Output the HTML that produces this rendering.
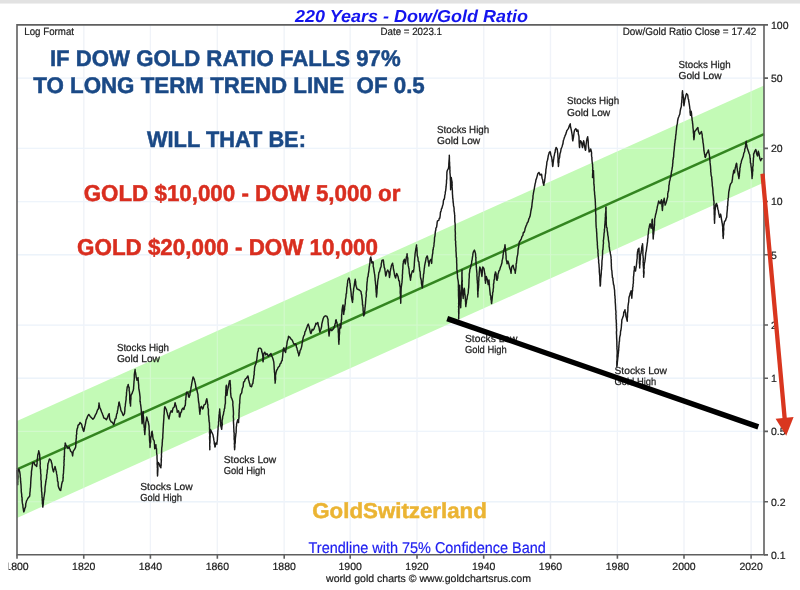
<!DOCTYPE html><html><head><meta charset="utf-8"><title>220 Years - Dow/Gold Ratio</title><style>
html,body{margin:0;padding:0;background:#fff;}body{width:800px;height:590px;overflow:hidden;}
svg{display:block;text-rendering:geometricPrecision;will-change:transform;}text{font-family:"Liberation Sans",Arial,sans-serif;}
</style></head><body>
<svg width="800" height="590" viewBox="0 0 800 590">
<rect x="0" y="0" width="800" height="590" fill="#fff"/>
<rect x="0" y="0" width="800" height="3" fill="#e2e2e2"/><rect x="0" y="3" width="800" height="1" fill="#efefef"/>
<path d="M83.75 24.9V554.8M150.40 24.9V554.8M217.35 24.9V554.8M284.20 24.9V554.8M350.20 24.9V554.8M417.00 24.9V554.8M483.70 24.9V554.8M550.50 24.9V554.8M617.40 24.9V554.8M684.00 24.9V554.8M751.10 24.9V554.8" stroke="#eef1f6" stroke-width="1.3" fill="none"/>
<path d="M17 78.08H764M17 148.39H764M17 201.57H764M17 254.75H764M17 325.06H764M17 378.24H764M17 431.42H764M17 501.73H764" stroke="#ebf2f9" stroke-width="1.3" fill="none"/>
<polygon points="17,420.90 764,85.60 764,182.60 17,517.90" fill="#c3fab6"/>
<path d="M83.75 24.9V554.8M150.40 24.9V554.8M217.35 24.9V554.8M284.20 24.9V554.8M350.20 24.9V554.8M417.00 24.9V554.8M483.70 24.9V554.8M550.50 24.9V554.8M617.40 24.9V554.8M684.00 24.9V554.8M751.10 24.9V554.8M17 78.08H764M17 148.39H764M17 201.57H764M17 254.75H764M17 325.06H764M17 378.24H764M17 431.42H764M17 501.73H764" stroke="#f4f8ff" stroke-opacity="0.3" stroke-width="1.2" fill="none"/>
<line x1="17" y1="469.40" x2="764" y2="134.10" stroke="#338520" stroke-width="2.5"/>
<polyline points="17.0,470.0 17.1,471.3 17.1,472.8 17.2,473.9 17.3,476.5 17.4,477.9 17.4,479.0 17.6,479.4 17.6,482.0 17.5,482.3 17.7,484.7 17.7,482.7 17.8,481.9 17.7,480.5 17.9,478.9 18.0,476.9 18.0,476.1 17.8,473.9 17.9,472.6 18.0,471.6 18.0,469.8 19.0,469.0 19.2,470.3 19.7,471.7 19.9,473.1 20.2,475.0 20.2,476.8 20.5,478.2 20.5,478.6 20.6,481.2 20.8,483.1 20.9,483.6 21.1,486.3 21.1,487.5 21.3,489.8 21.2,490.5 21.4,492.3 21.5,493.1 21.7,494.3 21.7,497.0 22.0,497.0 22.2,500.1 22.0,499.7 22.3,502.4 22.5,503.7 22.8,504.7 23.0,507.6 23.3,508.8 23.6,511.1 23.8,511.9 24.3,510.8 24.8,508.3 25.2,507.8 25.6,506.6 25.8,503.3 26.0,503.2 26.5,501.0 27.3,499.5 27.9,498.3 29.6,496.3 29.9,494.1 29.8,493.7 30.0,492.1 30.2,490.6 30.2,488.7 30.4,488.2 30.6,485.7 30.6,484.7 30.7,484.0 30.8,480.9 30.9,480.1 30.9,479.5 31.0,477.9 31.3,475.3 31.4,474.8 31.4,472.9 31.5,471.2 31.8,469.6 32.0,467.8 32.2,466.6 32.4,465.1 32.6,463.0 34.0,462.4 34.7,464.8 35.3,465.0 36.7,466.4 36.8,464.7 37.1,463.5 37.1,461.9 37.0,461.7 37.4,458.7 37.5,458.1 37.7,456.2 37.8,455.0 38.1,453.8 38.4,453.5 38.7,450.8 39.0,451.9 39.4,453.5 39.7,455.0 39.7,455.0 39.8,458.5 40.0,459.3 40.2,461.3 40.1,461.3 40.3,463.5 40.1,465.8 40.3,467.2 40.3,468.5 40.6,469.6 40.6,470.9 40.7,472.9 40.8,473.9 41.0,475.3 40.9,477.4 40.9,479.8 41.1,480.2 41.2,481.2 41.3,482.7 41.2,483.2 41.3,485.8 41.3,486.4 41.6,489.1 41.5,490.7 41.6,491.3 41.9,493.2 41.8,494.2 42.0,495.1 42.0,497.6 42.2,497.4 42.2,499.9 42.4,501.6 42.4,503.6 42.7,504.9 42.7,506.5 42.8,507.1 43.1,505.2 43.2,504.2 43.3,503.4 43.5,499.9 43.7,499.7 43.9,497.2 44.0,496.9 44.3,495.2 44.5,493.7 44.7,492.2 44.9,491.5 45.0,488.8 45.1,486.7 45.4,485.1 45.5,484.7 45.7,482.5 45.9,481.5 46.1,479.7 46.3,479.5 46.6,477.3 46.6,475.3 46.9,473.9 47.2,472.0 47.2,469.9 47.5,469.8 47.7,467.7 47.7,466.2 48.0,463.7 48.2,463.0 48.6,462.2 49.1,459.8 49.6,459.0 50.9,460.3 51.2,461.2 51.6,463.1 52.0,464.1 52.3,467.1 52.6,468.3 53.1,470.7 53.6,471.9 53.9,469.3 54.3,469.3 54.7,468.2 55.0,466.4 55.5,468.5 56.0,470.5 56.4,471.5 56.5,473.4 57.0,475.4 57.1,476.4 57.4,478.3 57.5,481.0 58.0,481.8 58.1,482.6 58.2,485.8 58.4,486.4 59.1,488.4 59.7,489.8 60.7,490.5 61.0,488.3 61.3,487.3 61.5,485.4 61.8,483.7 62.3,481.8 62.9,481.0 63.0,480.0 63.0,477.5 63.3,478.0 63.1,475.4 63.4,473.8 63.5,472.9 63.6,470.5 63.8,467.9 63.8,467.5 63.8,466.2 64.1,465.3 63.9,462.3 64.1,461.7 64.0,459.9 64.3,459.8 64.1,456.5 64.4,456.6 64.4,455.2 64.5,452.2 64.5,451.2 64.6,448.4 64.8,447.9 64.9,445.9 65.1,444.9 65.2,443.0 65.9,444.8 66.5,445.8 67.3,447.0 67.9,448.5 69.2,447.1 69.6,448.5 70.1,449.5 70.6,451.2 72.0,452.5 72.3,454.1 72.6,455.9 72.8,454.3 73.0,452.7 73.3,451.2 74.7,449.2 75.6,447.1 75.8,445.7 75.9,444.2 75.9,442.6 76.1,439.7 76.3,438.7 76.4,437.6 76.3,435.4 76.8,433.8 76.6,432.5 76.9,430.7 77.0,429.5 77.3,428.4 77.7,427.6 78.0,425.4 79.4,424.1 80.0,422.5 81.4,423.9 81.9,425.3 82.3,427.5 82.7,428.0 83.2,430.3 83.8,431.4 84.2,429.7 84.5,428.0 84.7,426.6 85.1,425.2 85.6,423.1 85.7,422.2 86.1,419.8 87.0,418.1 87.5,416.4 88.8,414.4 90.2,416.4 91.5,417.8 92.9,419.2 94.2,417.8 95.0,415.9 95.6,414.4 96.3,413.6 96.9,411.7 97.6,409.7 98.3,409.0 98.6,407.7 98.7,406.4 98.9,404.9 99.0,402.9 99.2,404.6 99.5,405.9 99.7,407.6 100.3,408.4 101.0,410.3 101.6,412.0 102.4,413.7 102.7,414.8 103.3,416.1 103.7,417.8 105.1,418.5 106.4,419.8 107.1,418.4 107.8,416.4 108.4,414.9 109.2,413.7 109.4,416.5 109.5,418.0 109.8,419.2 110.3,420.4 111.2,421.9 112.5,422.5 113.6,424.6 114.2,423.3 114.6,421.2 115.2,418.8 115.9,418.5 116.2,417.0 116.7,413.9 117.3,413.1 117.4,411.1 117.8,409.7 118.0,408.3 118.2,406.3 118.6,405.7 118.8,402.7 119.1,402.0 119.5,403.5 120.0,406.1 120.5,407.9 120.8,410.0 121.4,411.5 122.0,412.2 122.6,414.1 123.2,415.6 124.5,413.6 124.6,412.1 124.8,411.1 124.9,409.3 124.9,407.8 125.3,405.9 125.4,404.2 125.5,403.6 125.7,402.0 125.9,400.7 126.1,399.4 126.1,397.7 126.3,396.1 126.5,395.1 126.5,392.7 126.7,391.4 126.9,389.5 127.1,388.3 127.2,387.1 127.7,386.0 128.2,384.4 128.6,387.0 129.1,387.1 129.2,389.2 129.1,390.7 129.4,391.2 129.6,393.5 129.7,394.8 129.7,396.6 129.7,398.0 129.7,399.5 129.9,400.7 130.0,403.1 130.5,404.4 130.5,406.1 130.6,404.4 130.6,403.7 130.7,401.0 130.8,400.2 131.0,398.0 130.9,397.8 131.0,395.3 132.2,393.2 132.6,391.8 133.1,390.8 133.6,388.5 133.6,387.4 133.8,385.1 133.8,384.7 134.0,382.1 134.0,380.9 134.2,380.3 134.3,377.6 134.3,376.4 134.3,374.9 134.6,372.7 135.0,370.3 135.1,369.5 135.3,372.1 135.5,372.3 135.9,374.9 136.2,377.3 136.6,378.5 137.0,380.3 137.5,378.9 138.1,377.6 138.1,379.2 138.3,380.7 138.4,382.6 138.5,383.4 138.7,385.3 138.7,387.1 138.9,389.2 139.1,390.2 139.4,391.7 139.7,393.9 139.9,395.6 140.1,397.4 140.1,398.3 140.0,401.8 140.3,401.5 140.4,403.4 140.7,405.2 140.9,406.7 141.1,408.5 141.3,410.2 141.3,410.7 141.4,413.2 141.6,414.1 141.7,415.8 141.8,418.1 141.8,419.5 141.9,419.9 142.0,422.4 142.1,423.7 142.3,422.1 142.4,420.2 142.4,420.1 142.6,417.7 142.8,416.9 142.8,415.0 143.0,413.0 143.1,411.5 143.3,412.0 143.2,415.0 143.4,416.4 143.5,417.8 143.6,418.2 143.7,421.4 143.7,421.5 143.9,422.9 144.0,425.1 144.2,427.6 144.5,428.4 144.3,429.6 144.6,431.7 144.6,432.5 144.8,434.6 144.9,433.2 145.0,430.8 145.2,429.7 145.3,428.4 145.5,426.8 145.5,426.2 145.6,424.4 145.8,422.4 146.2,420.6 146.4,419.6 146.7,417.0 147.3,419.0 147.8,421.0 148.2,421.7 148.6,424.0 148.9,425.2 149.1,427.1 149.0,428.0 149.2,430.1 149.3,431.3 149.3,433.0 149.2,434.9 149.4,435.8 149.5,438.1 149.5,439.4 149.6,440.7 149.8,442.6 150.0,443.7 149.9,445.4 150.0,447.5 150.2,446.0 150.1,443.7 150.4,443.1 150.7,441.5 150.6,439.7 150.7,438.0 151.1,436.8 151.3,435.5 151.5,432.7 152.1,431.2 152.3,433.3 152.7,434.9 152.7,436.1 152.9,437.4 153.2,439.3 154.1,440.7 154.3,442.0 154.4,444.0 154.6,445.5 154.6,447.5 154.8,448.8 155.2,447.8 155.7,445.4 155.9,444.7 156.0,446.5 156.2,448.5 156.5,448.6 156.6,451.2 156.6,452.7 156.8,454.2 157.0,455.0 157.0,457.6 157.1,459.5 157.2,461.0 157.2,462.9 157.1,464.0 157.3,465.2 157.3,467.7 157.5,468.4 157.4,469.8 157.4,472.4 157.4,473.6 157.5,474.5 157.5,475.9 157.7,474.5 157.6,474.2 157.8,471.1 157.9,469.3 157.9,468.7 157.8,467.2 157.9,465.8 158.1,463.5 158.2,462.4 159.1,463.7 159.6,464.8 159.9,466.4 160.9,467.8 160.9,466.4 161.2,465.1 161.1,463.4 161.2,462.6 161.4,459.7 161.1,460.1 161.4,457.4 161.5,456.5 161.4,454.3 161.6,453.0 161.6,451.5 161.7,449.2 161.7,448.1 162.0,446.3 162.2,444.7 162.2,443.4 162.4,441.1 162.4,440.0 162.7,438.5 162.8,437.6 162.8,435.0 162.9,433.9 163.1,431.0 163.1,430.5 163.1,429.6 163.2,428.1 163.4,425.3 163.3,425.4 163.5,423.7 163.6,421.7 163.7,420.4 163.8,419.3 163.9,417.5 163.9,415.9 164.2,413.9 164.2,412.6 164.3,410.8 164.5,408.2 164.9,406.8 165.7,408.3 166.3,409.5 166.8,411.5 167.3,413.1 167.7,414.9 168.1,416.1 168.6,418.1 169.0,419.0 169.3,417.0 169.7,415.3 170.0,413.6 170.5,412.4 171.1,410.8 172.1,412.2 172.4,411.1 172.8,408.9 173.1,408.1 174.4,406.8 174.7,404.6 175.1,402.7 175.7,404.9 176.1,405.9 176.5,408.1 177.0,409.7 177.2,412.2 178.5,410.8 178.9,412.1 179.3,413.5 179.3,416.7 179.9,417.0 180.2,415.1 180.5,413.6 180.9,412.2 181.4,412.1 181.9,409.5 183.0,408.1 183.9,409.5 184.4,407.2 184.9,405.8 185.3,405.4 185.4,403.6 185.5,403.2 185.5,400.3 185.8,400.3 185.9,397.7 186.0,397.0 186.1,395.3 186.5,392.4 187.0,391.9 188.0,393.2 188.4,395.1 188.5,396.4 189.1,397.3 189.5,395.8 189.8,395.5 190.2,392.5 190.5,390.5 190.8,389.4 191.1,387.1 191.4,385.9 191.7,383.6 192.1,381.7 192.4,380.2 192.9,377.6 193.1,376.9 194.2,379.0 194.5,380.5 194.9,381.8 195.2,383.1 195.5,384.4 195.8,387.0 196.1,388.5 196.9,389.8 197.1,391.0 197.6,393.2 197.9,393.9 198.0,395.5 198.1,397.3 198.3,398.2 198.4,400.1 198.6,402.0 198.9,403.2 199.1,404.9 199.2,407.5 199.4,408.6 199.6,411.6 199.7,412.1 199.9,414.2 199.9,412.6 200.3,410.5 200.4,408.9 200.6,407.5 201.4,406.3 202.1,408.1 202.7,409.0 203.2,408.1 203.6,406.1 204.1,404.9 205.4,404.2 205.8,402.3 206.2,400.5 206.8,398.8 207.1,400.1 207.3,401.3 207.6,403.7 207.9,404.9 207.8,407.6 208.0,407.8 208.5,410.0 208.4,409.6 208.4,412.8 208.4,414.4 208.7,416.0 208.8,417.1 208.9,418.8 209.0,420.7 209.2,422.1 209.4,422.4 209.5,425.3 209.6,426.8 209.5,427.7 209.6,429.9 209.7,431.7 209.4,432.0 209.7,434.4 209.7,435.9 209.6,436.4 209.6,438.7 209.6,438.7 209.9,442.5 209.7,442.1 209.7,444.1 209.7,446.1 209.9,446.2 209.8,447.9 209.8,449.7 209.8,448.2 209.8,447.0 209.7,444.3 209.9,443.2 210.0,442.4 210.0,441.3 210.0,439.1 210.1,436.9 210.2,436.9 210.1,435.1 210.2,434.2 210.3,432.6 210.4,430.9 210.3,429.3 210.9,430.3 211.5,432.0 212.1,432.9 212.9,434.7 213.4,437.3 213.6,438.1 213.9,440.4 214.2,441.5 214.3,444.0 214.7,444.8 214.9,447.0 215.3,446.4 215.6,443.8 216.0,442.9 216.9,444.2 216.9,442.3 217.1,442.0 217.4,439.7 217.4,438.9 217.5,436.4 217.6,436.1 217.7,434.4 217.8,432.5 217.9,430.7 218.1,429.4 218.1,426.9 218.2,426.3 218.5,424.5 218.6,424.2 218.5,421.8 218.8,421.2 218.8,418.6 219.0,417.1 219.0,415.4 219.3,413.9 219.4,412.3 219.7,410.2 219.7,409.0 219.7,410.3 219.9,412.1 220.0,413.3 220.1,415.6 220.3,417.1 220.5,418.6 220.5,420.6 220.6,421.9 220.8,423.4 220.7,425.0 221.0,426.6 221.7,429.3 221.8,427.7 221.9,426.5 222.3,424.7 222.1,422.4 222.1,420.7 222.5,418.8 222.6,418.3 222.7,416.5 223.3,414.7 223.5,414.1 223.7,412.0 224.1,410.9 224.3,409.0 224.7,408.4 224.9,405.7 225.2,403.9 225.4,403.5 225.4,400.9 225.4,399.8 225.4,398.0 225.4,396.5 225.6,396.1 225.8,393.3 225.6,393.1 225.9,392.2 225.8,390.9 226.0,388.6 226.0,386.9 226.4,385.3 226.5,386.9 226.4,388.8 226.5,388.9 226.6,390.8 226.8,392.7 226.8,394.0 226.9,395.4 227.2,393.5 227.3,392.0 227.7,389.5 228.0,388.5 228.4,386.5 228.6,385.3 228.9,383.5 229.1,383.1 229.4,381.0 230.1,380.6 230.1,382.6 230.3,384.3 230.4,384.5 230.4,386.9 230.6,388.1 230.5,389.9 230.6,392.2 230.7,393.7 230.9,395.5 231.1,397.1 231.9,398.8 232.8,401.4 232.9,403.4 232.8,404.9 233.1,407.1 233.2,408.1 233.2,408.6 233.4,411.2 233.4,411.8 233.5,413.8 233.4,415.2 233.3,416.5 233.5,418.8 233.6,420.4 233.4,420.7 233.5,422.1 233.6,423.9 233.7,425.0 233.7,427.1 233.8,428.5 233.9,430.1 233.9,432.0 234.1,432.1 234.2,434.5 234.1,435.1 234.2,437.5 234.1,439.0 234.4,440.3 234.5,442.7 234.3,443.1 234.5,445.4 234.4,446.8 234.6,448.6 234.6,449.7 234.7,448.4 234.9,446.7 234.8,444.6 235.1,443.5 235.3,441.8 235.3,440.2 235.4,438.2 235.6,436.6 235.7,436.0 235.9,433.4 236.1,432.9 236.2,430.7 236.2,429.6 236.3,427.0 236.6,425.7 236.6,423.9 237.0,422.8 237.3,421.1 237.7,419.8 238.2,420.4 238.6,422.5 238.6,420.8 238.7,419.1 238.9,418.6 239.0,415.9 239.0,415.6 239.0,412.9 239.2,411.9 239.1,410.5 239.2,409.4 239.4,407.8 239.4,406.8 239.5,404.3 239.8,402.9 239.8,402.1 239.8,400.3 240.0,398.3 240.1,397.0 240.4,395.1 240.7,394.2 241.7,392.9 242.0,390.7 242.3,388.7 242.8,387.5 243.2,386.5 243.3,384.8 243.6,381.9 243.9,382.0 244.6,381.3 245.2,379.3 246.6,378.0 247.9,375.9 248.4,378.0 248.5,379.7 248.9,380.7 249.4,383.1 249.7,383.5 250.2,386.1 251.6,386.8 252.2,384.3 252.9,383.4 253.0,382.1 253.4,379.0 253.6,378.7 253.8,376.2 253.9,375.3 254.2,374.8 254.2,371.9 254.5,370.3 254.5,369.3 254.7,367.1 255.3,365.0 255.7,364.4 256.2,362.1 256.6,360.3 256.9,358.8 257.0,357.6 257.3,355.5 257.4,353.6 257.8,351.7 258.2,351.1 258.4,348.8 259.3,348.1 260.4,348.1 261.5,349.5 261.8,351.8 262.4,353.6 262.6,354.5 262.9,357.1 262.9,358.0 262.8,360.5 263.1,361.7 263.3,359.6 263.4,358.2 263.5,357.1 263.6,355.5 263.8,353.6 264.7,352.2 265.3,353.3 265.8,354.9 266.9,353.6 267.6,354.6 268.3,356.3 269.6,354.9 271.0,353.6 271.5,355.8 271.9,356.3 272.6,357.7 273.1,359.3 273.5,360.9 273.8,362.2 274.0,364.7 274.1,366.0 274.2,368.8 274.4,370.4 274.4,371.8 274.7,373.3 274.7,374.2 274.8,375.6 274.8,378.5 274.8,378.4 275.0,380.4 275.2,381.7 275.1,383.1 275.3,381.4 275.3,380.9 275.6,379.2 275.5,376.4 275.5,375.1 275.8,374.2 276.1,372.4 276.7,370.2 277.5,369.1 278.1,367.5 279.5,366.1 280.1,363.9 280.8,363.4 281.6,361.0 282.2,360.7 282.3,358.7 282.5,357.6 282.7,355.8 282.8,354.1 283.0,352.1 283.1,351.2 283.5,348.4 283.9,347.8 284.4,350.6 284.9,351.2 285.6,352.5 285.9,350.1 286.0,348.6 286.4,347.1 286.6,345.8 286.9,344.2 287.2,341.6 287.6,340.3 288.1,339.0 288.5,336.3 289.6,337.0 291.0,339.0 292.3,340.3 292.7,341.2 293.4,343.1 294.4,344.4 295.3,343.7 296.1,344.6 296.4,347.1 296.9,347.8 297.3,349.9 297.8,351.2 298.0,352.6 298.6,353.8 298.8,355.9 299.4,353.8 299.8,352.5 300.2,350.2 300.7,349.8 301.3,347.9 301.8,345.8 302.1,343.5 302.3,342.6 302.6,341.0 302.9,339.0 303.4,336.9 303.9,335.6 304.5,334.9 304.9,332.0 305.1,331.6 305.6,330.8 306.2,329.2 306.6,328.1 307.2,326.5 307.5,325.4 308.3,324.1 309.1,326.6 309.4,328.0 310.0,330.7 310.5,332.9 311.0,333.4 311.3,332.6 311.8,331.1 312.1,329.3 313.4,330.0 314.1,328.7 314.8,326.6 315.3,325.6 315.9,323.2 316.8,323.9 317.8,322.5 318.0,323.3 318.4,325.9 318.8,326.6 319.1,327.8 319.4,330.0 319.9,332.0 320.3,330.5 320.9,329.3 321.6,326.6 321.8,324.2 322.2,322.5 322.7,320.5 323.2,318.5 324.3,316.4 325.6,315.8 327.0,316.4 327.6,318.2 328.1,319.8 328.0,321.6 328.2,322.8 328.3,325.1 328.5,326.0 328.6,328.0 328.8,329.4 328.8,331.0 328.7,332.1 329.0,335.2 329.0,336.1 329.2,334.6 329.4,332.8 329.7,330.7 330.8,329.3 331.7,330.7 333.1,329.3 333.7,328.5 334.4,326.6 335.1,323.9 335.5,323.1 335.7,320.1 336.2,319.8 336.5,321.8 336.9,322.3 337.2,323.9 337.6,325.7 338.1,328.0 338.2,329.5 338.2,331.8 338.5,333.5 338.5,334.8 338.5,335.4 338.5,336.8 338.6,338.3 338.7,340.7 338.6,341.0 338.8,342.7 338.9,344.2 338.9,342.1 339.1,340.0 339.3,339.7 339.2,338.2 339.2,337.5 339.3,335.3 339.5,333.4 339.6,332.8 339.5,330.7 339.7,328.8 340.0,326.8 340.1,324.8 340.3,323.9 340.7,326.6 340.8,328.0 341.0,325.9 341.0,324.5 341.2,322.6 341.2,322.7 341.3,319.8 341.6,320.0 341.6,317.1 341.6,315.2 341.9,313.5 341.9,313.3 342.0,310.2 342.2,309.0 342.7,305.9 343.0,304.9 343.2,305.9 343.1,307.1 343.3,309.8 343.5,311.7 343.6,312.2 343.7,314.4 343.8,312.8 344.3,310.3 344.6,309.6 344.6,307.4 345.0,304.9 345.3,303.6 345.3,302.4 345.4,299.6 345.7,298.3 346.0,296.5 346.1,294.0 346.5,293.5 346.6,291.5 346.7,290.3 346.8,287.8 347.1,286.5 347.4,285.3 347.3,283.9 347.6,283.1 347.7,280.7 348.2,279.4 348.8,278.0 349.2,278.3 349.7,280.7 349.8,282.9 350.1,283.4 350.3,285.9 350.4,287.5 350.7,289.4 350.8,290.2 351.0,291.7 351.2,293.9 351.3,295.9 351.5,297.0 351.9,299.4 352.1,300.7 352.5,302.4 352.6,300.4 352.8,299.2 352.9,299.4 352.9,296.6 353.1,294.2 353.2,293.2 353.4,291.5 353.6,290.8 353.6,288.9 354.1,286.6 354.3,285.1 354.5,283.4 354.9,281.5 355.2,279.3 355.3,280.1 355.7,281.6 355.8,284.7 356.2,286.2 356.5,287.0 356.9,288.8 358.3,289.5 359.6,290.2 361.0,291.5 361.4,294.3 361.7,295.1 361.9,297.0 361.9,297.7 362.2,299.9 362.4,301.4 362.5,304.9 362.8,304.9 362.9,306.4 363.1,308.0 363.1,310.5 363.3,311.2 363.3,312.9 363.4,313.3 363.7,315.9 364.2,314.8 364.7,313.2 364.6,311.6 364.9,309.8 365.0,307.6 365.2,307.1 365.3,305.1 365.5,303.6 365.6,301.7 365.7,300.6 365.8,299.0 365.9,297.5 366.1,297.3 366.3,294.8 366.1,293.8 366.4,291.5 366.6,290.4 366.8,289.5 366.7,287.3 366.9,284.9 366.9,284.2 367.1,282.1 367.3,280.9 367.4,279.3 367.6,277.3 368.1,276.4 368.3,273.9 368.7,272.0 368.9,270.5 369.1,268.5 369.2,267.2 369.5,265.6 369.8,263.3 369.9,263.3 370.0,261.7 370.1,259.0 370.8,257.0 371.0,258.3 371.3,259.6 371.6,261.5 371.8,263.0 372.8,261.7 373.2,262.3 373.2,266.4 373.5,267.2 373.7,268.5 374.0,270.4 374.2,271.8 374.5,273.7 374.8,275.3 374.9,277.0 375.1,278.4 375.1,280.2 375.4,281.6 375.5,283.3 375.6,284.2 375.9,286.4 375.9,287.5 375.9,289.0 376.1,290.9 376.1,291.8 376.4,293.8 376.3,294.8 376.5,297.0 376.6,295.4 376.9,293.4 377.0,291.5 377.0,289.9 377.2,288.4 377.3,287.1 377.3,285.9 377.6,283.7 377.6,282.8 377.8,280.7 378.0,279.4 378.4,277.8 378.5,275.6 378.8,273.6 378.9,272.5 379.5,271.8 380.0,269.8 380.5,267.8 380.9,267.1 381.2,266.0 381.2,264.1 381.8,261.6 381.9,260.3 383.1,259.8 383.5,261.0 383.8,264.5 384.0,265.3 384.3,267.7 384.7,268.2 385.0,270.7 385.3,272.4 385.5,274.7 385.8,276.1 386.3,274.2 386.7,272.0 387.7,270.0 388.8,272.0 389.2,273.8 389.3,275.9 389.5,277.5 389.7,275.7 390.0,274.8 390.1,271.8 390.4,270.7 390.7,268.8 391.0,267.7 391.5,265.3 392.6,263.2 392.8,265.0 393.1,265.6 393.3,267.7 393.5,269.3 393.9,270.9 394.1,272.0 394.5,274.7 395.1,276.8 395.6,278.1 395.9,276.5 396.1,275.6 396.6,273.4 397.6,275.4 398.1,276.7 398.5,278.8 398.8,280.8 399.4,281.0 399.6,283.6 399.7,285.2 400.0,286.7 400.2,286.7 400.3,289.7 400.2,291.6 400.2,293.1 400.5,294.8 400.4,296.9 400.6,297.2 400.5,298.3 400.6,300.0 400.7,301.1 400.7,303.2 400.8,302.0 400.8,301.2 400.8,299.5 400.8,297.7 401.0,295.9 401.0,294.1 401.0,292.7 401.1,290.2 401.1,289.6 401.2,287.9 401.3,287.0 401.5,285.7 401.8,283.3 402.0,282.4 402.1,280.2 402.2,279.3 402.4,277.0 402.3,275.1 402.5,274.1 402.6,272.1 402.6,270.7 402.8,269.0 402.9,268.1 402.9,266.4 403.1,263.6 403.4,263.0 403.4,261.2 404.4,259.2 404.7,260.1 404.9,261.9 405.3,263.9 405.6,262.0 405.9,260.6 406.2,258.3 406.4,257.1 406.8,255.9 407.1,253.7 407.2,255.6 407.3,256.4 407.8,258.3 407.8,260.0 407.8,261.9 408.1,263.5 408.2,265.4 408.6,267.0 408.8,268.0 409.0,268.8 409.2,271.5 409.4,273.7 409.7,274.8 409.8,276.1 410.2,277.7 410.5,280.2 410.7,277.7 411.0,277.1 411.2,275.0 411.6,273.4 412.0,272.1 412.5,270.7 413.5,272.0 413.6,270.5 413.9,268.9 414.1,267.0 414.3,265.3 414.3,263.8 414.5,260.8 414.6,260.2 414.6,259.4 414.8,257.3 415.0,255.6 415.0,254.5 415.2,253.1 415.6,250.5 415.9,249.0 416.3,246.6 416.6,244.9 416.5,246.7 416.8,247.4 417.0,249.8 417.1,251.6 417.1,252.5 417.2,254.7 417.3,255.8 418.0,258.0 418.1,260.3 418.5,261.7 418.9,261.9 419.1,264.7 419.3,266.6 419.5,267.5 419.7,270.6 420.0,271.5 420.1,271.3 420.3,274.2 420.4,276.4 420.7,278.3 421.1,279.5 421.4,280.9 421.4,283.1 421.8,285.1 422.3,287.8 422.5,286.6 422.7,284.1 422.7,282.0 422.9,282.1 423.1,279.2 423.2,278.3 423.4,277.2 423.5,274.1 423.8,273.7 423.9,272.8 424.1,270.2 424.3,268.2 424.5,267.5 424.6,265.8 425.1,263.4 425.4,262.0 425.8,260.1 426.1,258.0 427.2,255.9 427.5,256.8 427.9,259.2 428.2,260.7 428.3,262.0 428.8,263.2 428.8,266.1 429.1,264.2 429.6,261.7 429.9,260.7 430.9,259.3 431.4,261.1 431.6,263.4 431.8,262.2 431.8,260.4 432.0,258.1 432.2,256.6 432.5,254.2 432.8,253.1 432.9,249.7 433.2,249.8 433.4,247.5 433.8,246.4 434.0,244.4 434.1,242.8 434.4,241.4 434.5,238.5 434.6,237.2 434.9,236.3 435.1,234.7 435.2,233.1 435.4,231.3 435.8,230.0 435.9,228.1 436.6,227.1 437.0,224.1 437.2,222.1 437.5,220.9 438.8,220.3 439.3,218.2 439.8,218.2 440.2,215.5 440.4,212.6 440.9,211.4 441.2,210.4 441.5,208.7 441.9,208.3 442.6,205.6 442.9,204.7 443.2,203.5 443.4,200.8 443.9,199.2 444.2,199.2 444.6,197.6 444.7,195.9 445.2,193.9 445.3,191.7 445.6,191.1 445.8,189.5 446.0,187.6 446.1,186.7 446.3,184.4 446.5,183.0 446.5,180.9 446.6,179.7 446.8,179.1 446.8,176.5 446.8,175.4 446.9,173.7 446.9,172.1 447.3,170.5 447.9,169.4 448.4,168.5 448.7,166.7 448.8,165.6 448.8,164.0 449.0,161.4 449.0,161.1 449.2,159.0 449.3,157.1 449.4,157.0 449.3,155.2 449.3,156.2 449.4,157.8 449.4,159.3 449.4,161.5 449.6,162.0 449.6,163.4 449.6,165.3 449.7,165.9 449.9,167.9 449.8,169.4 450.0,170.4 449.9,172.1 450.1,174.0 450.3,176.2 450.3,177.0 450.3,178.9 450.4,181.0 450.5,181.6 450.5,183.5 450.5,184.9 450.6,187.2 450.6,188.0 450.6,189.7 450.6,189.0 450.7,187.5 450.9,185.4 451.0,184.4 451.0,181.8 451.2,179.9 451.2,178.9 451.3,177.5 451.6,179.8 452.0,181.6 452.0,182.9 452.2,185.6 452.0,186.2 452.2,188.0 452.3,189.6 452.4,190.8 452.4,192.5 452.5,194.5 452.6,195.4 452.7,197.6 452.8,198.7 453.0,199.7 453.1,202.0 453.4,203.7 453.5,205.8 453.9,207.0 454.1,208.7 454.1,210.8 454.4,212.4 454.6,214.4 454.8,215.6 454.7,216.9 454.8,218.5 454.8,220.0 454.8,221.7 455.1,223.3 455.2,225.0 455.2,227.1 455.2,228.8 455.1,229.5 455.2,230.6 455.4,233.4 455.4,233.5 455.3,235.8 455.4,237.1 455.4,238.6 455.3,239.8 455.7,241.6 455.6,243.9 455.7,244.2 455.8,246.6 455.9,247.3 456.0,249.0 455.9,250.4 456.1,252.1 456.2,253.6 456.2,254.5 456.3,257.1 456.6,257.8 456.6,260.1 456.7,260.7 456.6,261.8 456.8,264.6 456.8,265.7 456.8,266.8 456.8,268.9 457.1,270.7 457.2,271.7 457.3,273.9 457.5,275.3 457.5,276.3 457.6,278.1 458.0,279.9 458.3,282.2 458.4,283.4 458.4,285.1 458.4,287.3 458.5,288.6 458.4,289.9 458.5,291.1 458.5,291.7 458.5,293.4 458.5,295.6 458.5,295.4 458.6,297.4 458.7,299.1 458.7,300.5 458.7,302.9 458.6,303.6 458.8,305.1 458.5,306.9 458.8,308.0 458.6,309.4 458.7,310.2 458.6,312.0 458.8,312.8 458.8,313.9 458.7,316.1 458.7,316.8 458.7,318.9 458.6,317.8 458.7,317.2 458.8,314.0 458.9,313.5 458.9,311.6 458.9,310.3 459.0,307.6 459.0,307.7 459.1,305.8 459.1,304.7 459.0,303.9 459.1,302.0 459.2,300.5 459.4,298.8 459.3,296.9 459.4,295.6 459.3,293.9 459.4,293.2 459.6,291.2 459.5,289.4 459.6,288.4 459.7,286.5 459.7,285.3 459.7,288.0 459.6,289.2 459.8,290.4 459.9,291.2 459.9,292.3 460.1,293.9 460.1,296.2 460.1,296.8 460.2,298.5 460.4,299.4 460.4,301.9 460.4,302.8 460.6,305.3 460.7,305.7 460.7,307.7 460.8,305.6 460.8,304.1 460.9,303.3 460.9,302.1 461.1,300.8 461.1,298.5 461.1,296.5 461.2,295.4 461.3,293.3 461.4,292.6 461.5,291.6 461.5,289.4 461.6,288.0 461.7,285.7 461.7,285.3 461.7,282.9 461.7,282.3 461.8,281.6 461.9,280.0 461.9,277.4 461.9,276.8 461.9,274.6 461.9,273.1 462.0,271.6 462.0,270.0 462.0,272.2 462.1,273.0 462.0,274.2 462.0,276.4 462.1,277.8 462.1,279.7 462.3,280.6 462.3,281.1 462.1,282.7 462.3,285.0 462.1,285.9 462.3,287.5 462.3,288.7 462.4,290.4 462.5,291.1 462.8,294.6 462.8,295.1 463.1,297.1 463.2,298.5 463.2,297.3 463.4,295.3 463.6,294.4 463.7,292.3 463.7,290.4 464.2,288.3 464.5,289.5 464.6,290.9 464.7,293.0 464.8,293.6 465.1,295.4 465.2,296.9 465.3,298.0 465.4,298.5 465.4,301.0 465.7,302.8 465.6,303.6 465.7,304.9 465.8,306.6 465.9,305.4 466.1,304.1 466.4,302.5 466.5,300.5 467.1,298.7 467.3,296.5 467.7,294.8 468.1,293.4 468.3,292.0 468.4,289.5 468.6,288.1 468.7,287.6 468.8,285.3 468.9,283.8 469.0,280.9 469.0,281.3 469.0,279.3 469.2,278.0 469.3,276.6 469.2,273.9 469.3,273.8 469.6,272.1 469.9,269.3 470.3,268.4 470.6,267.7 470.9,265.1 471.4,264.3 471.7,262.3 471.7,261.2 472.1,260.0 472.4,257.5 472.8,255.4 472.9,253.9 473.3,252.1 474.4,250.1 474.9,251.5 475.5,253.5 475.6,254.6 475.7,257.1 476.0,257.5 475.8,259.3 476.0,261.4 476.0,263.0 476.2,264.4 476.3,267.3 476.4,267.2 476.5,268.9 476.7,271.0 476.8,272.5 477.0,273.9 476.9,275.6 477.1,277.7 477.1,279.5 477.3,280.7 477.4,282.0 477.3,282.1 477.6,284.4 477.6,285.5 477.6,288.5 477.6,289.8 477.7,290.9 477.8,292.7 477.7,293.8 477.9,295.1 477.9,296.9 477.9,294.5 478.0,293.6 477.9,292.1 478.2,290.5 478.2,289.5 478.5,287.4 478.5,286.0 478.7,284.8 478.6,283.6 478.7,281.8 478.9,279.6 478.8,278.2 478.9,276.8 479.1,276.0 479.2,274.7 479.2,272.5 479.5,270.3 479.6,268.5 479.8,267.0 480.4,268.3 480.9,269.7 481.1,272.0 481.4,273.3 481.6,274.1 481.9,276.5 482.1,274.8 482.2,273.5 482.3,271.8 482.4,270.4 482.6,267.9 482.8,267.0 483.9,268.4 484.1,269.3 484.4,271.4 484.7,273.5 485.0,275.2 485.0,276.6 485.1,278.5 485.1,280.3 485.4,281.3 485.5,283.3 485.7,280.3 485.9,280.0 486.1,277.4 486.3,276.5 486.7,277.9 487.3,279.2 487.6,281.4 487.9,282.8 488.2,284.6 488.5,283.4 488.8,282.1 489.0,280.0 489.1,281.2 489.2,283.5 489.4,284.7 489.3,285.9 489.6,287.6 489.7,289.1 489.9,291.1 490.0,292.0 490.1,293.1 490.3,295.1 490.8,295.8 490.9,298.5 491.0,300.0 491.3,299.8 491.4,302.8 491.6,303.6 491.9,301.0 491.9,301.3 492.1,299.1 492.3,297.5 492.4,296.0 492.6,294.5 492.6,293.0 493.2,291.0 493.1,290.0 493.3,288.7 493.5,287.7 493.5,286.0 493.5,284.3 493.9,282.8 494.0,280.3 494.1,280.0 494.5,278.8 494.6,276.3 494.8,274.1 495.3,273.8 495.4,271.9 496.0,273.3 496.3,276.0 496.5,277.7 496.6,280.0 497.1,280.3 497.3,278.7 497.7,278.3 497.8,276.8 498.0,274.0 498.5,273.0 498.8,271.0 499.3,270.6 499.8,269.5 500.2,267.9 500.7,266.5 501.2,265.2 501.8,263.2 502.0,262.5 502.1,260.6 502.5,259.2 502.9,257.5 503.0,255.7 503.3,253.8 503.6,251.7 503.9,250.3 504.2,248.7 504.5,249.2 504.9,245.7 505.0,244.8 505.2,247.0 505.4,248.6 505.6,250.3 505.7,251.6 505.9,253.8 505.9,254.6 506.1,256.1 506.1,258.5 506.3,259.7 506.9,262.1 507.0,263.8 507.4,263.1 508.0,261.1 508.4,262.4 508.8,263.8 509.1,265.2 509.6,267.8 510.1,269.2 510.5,270.0 510.8,271.9 511.1,273.3 511.2,271.3 511.5,269.2 511.6,267.6 512.0,266.5 513.1,265.2 513.6,267.8 514.2,269.2 514.6,270.2 515.0,270.6 515.2,273.3 515.5,271.2 515.7,269.6 515.9,268.3 516.1,266.5 516.1,263.9 516.5,263.2 516.6,261.3 516.8,260.1 516.9,258.4 517.1,257.1 517.6,254.9 517.9,253.0 518.0,251.0 518.2,248.9 518.5,247.5 518.9,245.1 519.0,244.8 519.2,242.1 520.2,240.8 521.0,239.4 521.4,238.4 521.9,236.7 522.9,235.3 523.3,232.5 524.0,232.6 524.7,230.7 525.1,228.6 525.6,227.2 526.1,225.8 526.7,224.6 527.4,222.5 528.1,221.9 528.5,220.3 528.9,218.7 529.4,217.8 529.9,216.6 530.3,215.0 530.5,213.7 530.9,211.0 531.2,209.5 531.5,208.3 531.8,206.7 531.9,205.5 532.2,202.5 532.4,201.5 532.5,200.0 532.9,198.6 533.0,195.6 533.2,194.7 533.4,193.4 533.8,191.2 534.2,189.3 534.6,186.7 534.8,185.8 535.1,183.9 535.6,182.1 535.9,179.8 536.4,178.9 536.9,177.1 537.3,175.6 537.8,173.7 538.9,172.4 539.5,173.5 540.0,175.1 540.9,174.4 541.6,174.3 541.9,177.1 542.2,178.7 542.7,179.7 543.0,182.5 543.4,183.9 543.8,185.3 544.1,183.0 544.6,181.2 544.8,179.1 545.1,177.5 545.2,176.0 545.4,174.4 545.7,173.0 545.8,171.5 545.9,169.5 546.3,167.7 546.4,166.3 546.7,164.6 546.9,161.9 547.3,160.8 547.8,159.0 548.1,156.8 548.3,155.6 548.8,154.0 549.1,152.7 550.0,151.6 550.4,152.5 550.7,154.2 551.1,155.7 551.6,157.0 552.0,159.7 552.1,161.6 552.4,162.6 552.5,165.1 552.7,166.5 552.9,165.7 553.2,162.7 553.4,161.5 553.5,160.0 553.8,158.4 554.1,156.0 554.3,155.6 554.7,153.0 555.1,152.4 555.4,149.7 555.7,149.2 556.1,147.5 557.1,148.9 557.3,149.5 557.5,151.7 557.7,153.0 557.9,155.7 557.9,156.8 558.1,158.7 558.0,160.0 558.0,162.0 558.3,163.7 558.4,165.9 558.4,166.5 558.6,165.1 558.6,163.3 558.9,162.4 558.9,159.9 559.2,158.4 559.6,157.4 559.9,154.2 560.2,153.0 560.6,152.0 561.1,148.9 561.6,147.8 562.2,146.2 562.7,144.1 562.9,144.2 563.3,140.8 563.8,139.4 564.2,138.1 564.8,136.5 565.2,135.3 565.7,134.4 566.3,132.6 566.8,130.7 567.4,129.9 568.3,128.6 568.8,127.6 569.3,125.8 570.3,123.8 570.4,126.1 570.7,127.3 571.0,128.6 571.4,130.5 571.6,131.7 572.0,134.0 572.2,135.1 572.4,136.9 572.5,139.2 572.8,140.8 573.0,139.6 573.4,137.6 573.7,135.3 574.0,132.9 574.3,131.3 574.7,129.9 575.8,128.6 576.4,129.8 576.8,131.3 577.8,129.9 578.2,131.5 578.3,133.7 578.7,135.3 578.9,135.6 579.0,137.3 579.1,140.4 579.1,141.3 579.2,143.1 579.3,144.2 579.4,146.6 579.6,147.5 579.7,146.0 579.9,143.8 580.3,142.4 580.5,140.8 581.5,142.1 581.8,144.1 582.1,146.0 582.5,147.5 582.8,146.0 582.9,144.4 583.4,141.8 583.6,140.8 584.1,142.5 584.2,144.3 584.6,146.2 585.1,149.0 585.5,150.3 585.7,149.7 585.9,147.0 586.0,145.1 586.2,143.7 586.4,142.8 586.6,140.8 586.9,139.6 587.1,138.5 587.7,136.7 587.8,138.1 588.0,139.2 588.2,141.4 588.3,143.4 588.3,144.3 588.4,145.8 588.6,147.5 588.9,149.0 589.1,151.9 589.6,151.6 590.1,150.9 590.7,149.0 591.4,151.7 591.6,153.2 591.5,154.9 591.7,156.7 591.9,156.9 591.9,159.1 592.1,161.2 592.3,163.2 592.6,164.4 592.6,166.5 592.8,168.0 592.7,169.7 592.6,170.0 592.8,172.0 592.6,174.2 592.6,175.6 592.5,177.5 592.9,175.8 593.1,174.5 593.3,172.3 593.5,170.7 593.5,172.0 593.5,172.8 593.6,174.7 593.7,177.3 593.8,178.8 593.8,180.2 593.9,180.9 593.8,182.5 593.9,184.2 594.2,186.5 594.3,187.1 594.2,189.7 594.4,191.0 594.6,192.7 594.6,194.4 594.8,195.1 595.0,197.8 595.2,199.3 595.2,200.5 595.3,201.4 595.4,203.6 595.4,204.9 595.6,206.4 595.5,206.6 595.6,210.5 595.6,209.7 595.6,211.4 595.7,213.6 595.9,215.2 595.9,216.9 595.9,218.7 595.9,219.2 595.9,221.4 596.0,222.4 596.0,223.5 596.1,225.8 596.2,227.4 596.5,229.1 596.5,230.8 596.6,231.7 596.8,233.9 596.8,235.6 596.9,237.1 597.0,238.5 597.1,240.5 597.2,241.3 597.4,243.0 597.3,244.3 597.5,245.8 597.5,247.5 597.7,249.2 598.0,249.9 597.9,253.2 598.1,253.2 598.1,255.6 598.4,257.0 598.4,258.6 598.7,260.3 598.6,262.2 598.9,263.9 599.0,264.5 599.1,267.1 599.2,267.8 599.3,269.4 599.3,271.7 599.5,273.4 599.6,274.8 599.8,275.9 599.8,276.9 599.8,279.3 599.9,280.6 600.0,282.4 600.1,283.4 600.1,285.6 600.2,286.1 600.5,284.6 600.5,283.2 600.6,281.3 600.7,279.0 600.7,278.4 601.0,276.6 600.9,276.1 601.1,275.4 601.3,272.7 601.3,270.9 601.5,270.0 601.7,268.1 601.6,267.5 601.8,266.1 601.9,264.3 601.9,262.7 602.0,260.5 602.2,259.3 602.4,257.4 602.4,256.2 602.5,255.0 602.6,253.9 602.6,251.8 602.7,250.0 603.0,249.6 603.0,248.5 603.2,246.2 603.2,245.0 603.5,243.2 603.3,240.6 603.5,240.0 603.7,238.1 603.7,237.8 603.9,236.1 604.0,234.5 604.1,232.9 604.4,232.1 604.4,229.1 604.6,228.7 604.7,227.8 604.7,226.2 604.9,224.4 605.1,222.0 605.0,222.1 605.2,220.7 605.3,217.3 605.5,216.6 605.4,215.3 605.5,213.4 605.6,213.3 605.9,210.4 605.9,210.9 605.8,208.2 606.0,207.0 606.1,207.6 606.0,210.6 606.1,211.3 606.1,212.7 606.1,215.4 606.2,216.2 606.2,217.0 606.3,217.9 606.2,219.8 606.2,221.5 606.3,222.4 606.3,224.4 606.5,226.7 606.6,227.7 607.1,227.9 607.1,230.2 607.5,231.9 607.6,232.6 607.8,235.1 608.2,236.9 608.3,238.0 608.4,239.8 608.6,241.0 608.9,242.5 609.1,243.9 609.1,247.0 609.4,247.3 609.5,249.0 609.7,250.2 610.1,251.6 610.4,253.9 610.7,254.9 611.0,257.0 611.1,258.9 611.3,260.2 611.2,260.3 611.2,262.2 611.4,264.1 611.3,265.7 611.4,266.3 611.5,268.6 611.6,270.0 611.9,270.7 612.0,272.5 612.1,274.1 612.3,275.8 612.4,277.6 612.9,278.0 612.9,280.2 613.2,281.6 613.4,283.7 613.5,284.5 613.9,285.1 614.2,287.8 614.2,288.0 614.6,290.3 614.6,291.2 614.7,293.4 614.8,295.7 615.0,296.0 615.0,298.0 615.3,299.8 615.2,300.2 615.2,301.8 615.4,303.9 615.5,305.6 615.6,307.2 615.6,307.1 615.6,309.2 615.8,310.4 616.0,312.2 615.8,314.0 616.1,315.6 616.0,316.6 616.0,318.9 616.1,319.3 616.3,320.8 616.2,321.6 616.5,324.3 616.3,325.0 616.5,326.6 616.4,327.3 616.6,329.5 616.6,331.0 616.4,331.8 616.5,334.1 616.6,335.3 616.6,337.1 616.7,339.1 616.8,340.0 616.8,341.2 616.9,343.3 616.8,343.3 616.9,346.7 617.0,347.5 616.9,348.4 617.1,349.9 617.2,351.9 617.2,353.5 617.1,354.7 617.0,356.4 617.1,358.6 617.0,359.8 617.0,360.5 616.8,361.5 616.8,363.1 616.8,364.4 616.8,366.6 617.1,365.3 617.2,364.6 617.3,362.6 617.5,360.9 617.7,358.9 617.9,356.9 618.1,356.2 618.1,354.5 618.4,352.9 618.5,351.2 618.7,350.4 618.7,348.0 618.9,347.3 618.9,345.5 619.1,344.1 619.2,341.7 619.4,341.8 619.5,340.6 619.6,337.8 619.9,336.4 620.2,335.2 620.4,334.5 620.5,331.7 620.9,330.3 621.1,328.8 621.3,327.7 621.4,326.2 621.5,324.5 621.8,321.9 621.7,321.3 621.9,319.6 622.5,318.3 623.0,316.6 623.5,315.6 623.8,311.9 624.2,312.0 625.0,309.7 625.2,312.3 625.5,312.1 625.8,315.1 626.0,316.6 626.4,317.5 626.9,319.8 627.2,321.2 627.3,320.9 627.2,317.8 627.5,317.2 627.5,315.0 627.5,313.9 627.7,312.1 627.9,310.6 627.9,308.9 628.0,307.4 628.0,306.3 628.3,304.2 628.4,303.4 628.7,301.8 628.8,299.8 629.0,297.5 629.4,296.0 629.8,295.3 630.0,293.7 630.5,292.6 631.1,290.7 631.3,292.8 631.4,294.0 631.5,294.6 631.6,296.2 631.8,298.3 631.9,296.6 632.0,295.2 632.2,293.2 632.2,291.8 632.6,290.7 632.6,289.1 632.7,287.4 633.0,286.8 633.0,284.4 633.4,283.1 633.3,281.5 633.5,280.1 633.4,278.8 633.5,276.5 633.7,275.8 633.8,274.1 633.9,273.6 634.0,271.2 634.4,269.6 634.4,268.2 634.4,266.5 634.7,268.7 635.1,269.9 635.5,271.1 635.7,269.6 635.9,268.0 636.1,267.4 636.4,265.4 636.6,263.8 636.7,261.9 636.9,261.1 636.9,259.8 637.2,258.4 637.2,254.8 637.4,253.5 637.5,251.9 637.8,251.4 637.9,249.7 639.0,248.2 639.0,249.2 639.1,251.0 639.1,252.4 639.1,254.3 639.3,255.0 639.3,256.5 639.4,257.9 639.4,260.2 639.5,260.8 639.3,262.2 639.5,263.9 639.7,264.9 639.6,266.6 639.7,268.0 639.7,265.3 639.9,265.0 640.0,263.7 640.0,261.6 640.2,259.8 640.4,258.2 640.3,256.6 640.5,255.8 640.6,254.2 641.0,253.6 641.3,251.2 641.6,249.7 641.7,247.7 642.1,245.6 642.5,245.7 642.5,243.6 642.6,244.3 642.7,246.6 642.8,247.9 642.9,250.2 642.9,252.0 642.9,253.6 642.8,255.2 643.1,255.8 643.1,257.2 643.3,258.7 643.2,260.5 643.1,262.4 643.4,262.5 643.2,264.5 643.3,266.0 643.5,268.0 643.6,268.3 643.6,269.6 643.5,271.8 643.6,272.1 643.6,273.1 643.8,274.8 643.7,277.2 643.6,275.1 643.9,274.5 644.1,272.3 644.0,271.5 643.8,269.2 644.2,268.3 644.1,266.2 644.3,265.0 644.4,263.4 644.8,261.9 644.9,261.2 645.2,259.0 645.3,258.1 645.5,255.8 645.7,253.6 645.9,252.1 646.2,251.2 646.4,249.8 646.6,248.2 646.8,246.5 647.0,245.6 647.1,244.4 647.5,241.9 647.6,240.6 647.7,239.0 648.0,237.3 648.0,235.7 648.2,234.4 648.4,233.3 648.5,231.4 648.7,230.0 648.9,228.3 649.2,227.4 649.6,225.0 650.1,223.7 650.5,225.6 650.8,227.0 651.2,228.3 651.3,226.4 651.5,225.1 651.8,223.9 651.9,222.8 652.0,220.3 652.3,219.2 652.4,220.6 652.4,223.1 652.6,224.4 652.7,224.3 652.7,226.9 652.8,227.7 652.7,228.8 653.0,230.5 653.0,231.8 652.9,233.4 653.1,234.9 653.1,235.8 653.1,237.2 653.2,239.0 653.3,237.6 653.4,235.4 653.6,234.4 653.8,232.6 653.9,230.5 654.1,230.1 654.2,228.3 654.3,226.3 654.5,225.1 654.5,223.6 654.6,221.4 654.6,220.9 654.7,218.6 655.2,217.2 655.5,215.0 656.0,213.2 656.2,212.5 656.7,210.0 657.0,208.7 657.4,206.4 657.9,204.6 658.2,203.1 658.7,201.0 659.4,202.7 660.1,203.7 660.5,202.9 661.0,201.0 661.5,199.7 661.6,200.8 661.9,203.0 661.9,204.1 662.0,206.5 662.2,207.4 662.2,208.6 662.4,210.5 662.5,209.5 662.6,207.3 662.9,205.8 662.9,203.5 663.2,203.2 663.2,201.0 663.7,200.5 664.2,198.3 664.4,200.3 664.6,202.0 665.0,203.5 665.1,205.1 665.6,203.9 666.2,202.4 666.6,201.1 667.0,199.4 667.3,198.3 667.7,196.9 667.7,193.8 668.0,192.5 668.2,191.5 668.5,191.1 668.8,188.2 668.9,185.1 669.2,184.7 669.5,181.3 669.7,181.1 670.0,179.9 670.3,178.0 670.6,177.2 671.1,175.5 671.2,173.6 671.4,172.5 671.8,170.2 672.0,169.4 672.3,167.1 672.6,166.1 672.6,164.7 672.9,162.3 672.9,160.0 673.2,159.4 673.3,157.6 673.6,157.2 673.7,154.9 673.8,152.6 673.9,152.1 674.1,150.5 674.3,149.0 674.4,146.9 674.7,144.9 674.6,143.8 674.9,143.2 675.0,141.8 675.2,139.7 675.5,139.2 675.6,136.5 675.9,134.7 676.0,134.2 676.2,131.5 676.5,129.2 676.5,128.7 676.8,126.0 677.1,124.7 677.4,123.3 677.6,121.0 677.8,120.0 678.2,118.0 678.7,117.0 679.3,115.3 679.8,114.3 680.2,111.2 680.5,109.5 680.8,108.3 681.2,107.1 681.4,105.5 681.5,103.0 681.7,103.0 681.8,100.2 682.0,99.0 682.0,96.9 682.2,96.3 682.2,93.7 682.4,92.2 682.5,90.8 682.7,93.4 683.0,94.3 683.2,96.3 683.4,97.6 683.6,98.1 683.6,101.2 683.6,102.5 683.7,103.7 683.9,105.8 684.2,104.2 684.5,102.2 684.7,100.3 685.2,98.6 685.7,96.3 686.2,94.5 686.6,93.6 687.7,94.9 688.0,97.2 688.2,99.0 688.6,99.5 688.8,101.7 689.1,103.2 689.4,105.2 689.7,107.1 689.8,108.6 690.1,109.4 690.0,112.1 690.2,113.2 690.4,115.3 690.5,112.8 691.1,111.2 691.5,113.2 691.6,114.5 691.7,116.6 692.0,118.0 692.1,120.3 692.4,121.0 692.6,123.7 692.8,124.7 692.9,126.3 693.0,128.0 693.3,130.0 693.3,131.7 693.4,132.9 693.7,134.5 693.6,136.4 693.9,139.0 693.9,139.7 694.1,138.4 694.3,136.1 694.5,134.5 694.5,132.7 694.7,131.5 695.8,130.2 696.9,128.8 697.9,127.5 698.2,129.7 698.5,131.5 699.1,133.0 699.6,134.2 700.6,132.9 701.5,131.5 701.7,132.7 702.2,135.0 702.3,136.9 702.5,138.5 702.8,139.9 703.0,142.6 703.3,143.7 703.5,145.6 703.6,146.8 703.8,148.5 703.9,150.5 704.2,151.9 704.5,153.9 704.9,155.1 704.9,156.5 705.3,157.6 705.9,156.1 706.3,154.2 706.9,153.1 707.7,151.8 708.4,150.0 708.7,151.3 708.9,152.8 709.3,154.5 709.5,156.1 709.6,156.8 709.8,160.0 710.0,160.8 710.0,161.7 710.1,162.9 710.4,165.3 710.6,167.0 710.6,168.1 710.8,170.1 710.7,171.5 711.0,172.9 711.0,174.1 711.3,176.1 711.7,177.1 711.8,179.7 711.9,180.5 712.1,182.2 712.2,183.2 712.3,186.1 712.5,186.6 712.7,187.8 712.9,190.1 712.9,190.7 713.0,192.6 713.2,194.3 713.4,195.8 713.6,197.8 713.6,198.4 713.7,200.2 714.0,201.6 714.0,203.4 713.9,204.6 714.1,205.8 714.0,208.8 714.1,208.9 714.2,209.8 714.2,211.9 714.2,214.5 714.4,215.2 714.3,215.9 714.4,218.4 714.3,219.1 714.5,220.9 714.6,223.1 714.5,223.3 714.6,222.2 714.6,220.3 714.7,218.9 714.8,217.5 714.8,215.8 715.0,214.6 715.0,212.2 715.0,211.1 715.2,209.9 715.3,208.3 715.6,206.5 715.6,205.0 716.5,203.4 716.8,205.9 717.3,205.1 717.6,208.0 717.9,209.2 718.3,210.2 718.6,212.6 718.9,214.1 719.4,216.1 719.5,217.2 720.1,216.4 720.6,214.1 720.9,215.4 721.2,217.1 721.4,219.0 721.7,220.2 721.9,222.0 722.3,223.7 722.4,224.6 722.6,226.3 722.8,226.9 722.7,229.8 722.8,231.8 722.8,231.5 723.0,234.4 722.9,236.0 723.2,236.9 723.2,238.5 723.3,236.6 723.4,235.3 723.6,234.1 723.5,231.8 723.5,231.6 723.8,229.5 723.7,227.9 723.6,226.9 723.9,224.7 724.2,223.5 724.4,221.8 725.6,220.2 726.1,218.4 726.7,217.2 726.8,215.8 726.9,213.7 727.0,212.8 727.1,211.7 727.3,209.8 727.4,208.8 727.4,206.1 727.7,206.0 727.8,203.4 727.9,201.3 728.2,199.8 728.0,199.0 728.4,197.4 728.5,195.8 728.6,194.2 728.7,192.7 728.9,191.3 729.3,189.8 729.5,188.1 729.8,186.6 730.3,184.6 730.8,183.6 732.0,182.1 732.0,181.1 732.5,179.0 732.5,178.3 732.6,177.1 732.9,175.0 733.4,173.0 733.5,171.6 733.8,170.3 734.6,172.7 734.8,170.3 735.1,169.1 735.4,167.2 735.6,166.7 736.0,164.8 736.5,163.2 736.8,164.3 736.9,167.0 737.2,168.5 737.3,169.1 737.5,171.3 737.8,171.3 738.0,173.3 738.2,175.0 738.5,175.8 738.9,178.6 739.0,177.3 739.4,175.9 739.3,174.5 739.4,174.2 739.7,171.5 739.9,169.6 739.8,168.3 740.2,167.4 740.5,165.4 740.5,164.4 741.1,162.9 741.5,160.8 742.4,158.4 743.3,156.1 743.7,153.5 744.1,152.5 744.6,151.6 744.8,149.0 745.2,147.9 745.6,145.4 745.8,143.4 746.2,141.3 746.4,143.9 746.8,145.4 747.0,147.3 747.6,149.0 748.4,151.3 749.2,153.7 749.7,154.7 750.0,157.3 750.2,158.8 750.3,159.1 750.4,162.8 750.7,163.2 750.8,163.3 751.0,165.8 751.1,166.8 751.4,168.2 751.5,170.3 751.7,171.9 751.8,173.0 751.9,175.0 752.0,177.4 752.1,178.6 752.1,177.0 752.4,175.8 752.5,174.0 752.5,172.0 752.7,171.5 752.9,170.2 752.7,168.3 752.8,166.7 753.2,165.2 753.1,164.0 753.2,162.9 753.3,160.8 753.4,159.6 753.4,158.2 753.7,156.9 753.6,153.9 753.9,153.7 754.7,151.3 755.7,149.5 756.1,150.4 756.4,152.3 756.6,153.7 757.5,156.1 757.8,154.8 758.0,152.6 758.3,151.3 759.0,153.7 759.3,155.5 759.6,157.1 759.8,158.4 760.7,160.8 761.6,158.4 762.6,158.8" fill="none" stroke="#1a1a1a" stroke-width="1.45" stroke-linejoin="round"/>
<path d="M17 24.9H764V554.8H17Z" fill="none" stroke="#5f5f5f" stroke-width="1.6"/>
<path d="M17.00 554.8v4M83.75 554.8v4M150.40 554.8v4M217.35 554.8v4M284.20 554.8v4M350.20 554.8v4M417.00 554.8v4M483.70 554.8v4M550.50 554.8v4M617.40 554.8v4M684.00 554.8v4M751.10 554.8v4M764 24.90h4M764 78.08h4M764 148.39h4M764 201.57h4M764 254.75h4M764 325.06h4M764 378.24h4M764 431.42h4M764 501.73h4M764 554.91h4" stroke="#5f5f5f" stroke-width="1.6" fill="none"/>
<text x="17.00" y="569.5" font-size="10.5" text-anchor="middle" fill="#1a1a1a" stroke="#1a1a1a" stroke-width="0.2">1800</text>
<text x="83.75" y="569.5" font-size="10.5" text-anchor="middle" fill="#1a1a1a" stroke="#1a1a1a" stroke-width="0.2">1820</text>
<text x="150.40" y="569.5" font-size="10.5" text-anchor="middle" fill="#1a1a1a" stroke="#1a1a1a" stroke-width="0.2">1840</text>
<text x="217.35" y="569.5" font-size="10.5" text-anchor="middle" fill="#1a1a1a" stroke="#1a1a1a" stroke-width="0.2">1860</text>
<text x="284.20" y="569.5" font-size="10.5" text-anchor="middle" fill="#1a1a1a" stroke="#1a1a1a" stroke-width="0.2">1880</text>
<text x="350.20" y="569.5" font-size="10.5" text-anchor="middle" fill="#1a1a1a" stroke="#1a1a1a" stroke-width="0.2">1900</text>
<text x="417.00" y="569.5" font-size="10.5" text-anchor="middle" fill="#1a1a1a" stroke="#1a1a1a" stroke-width="0.2">1920</text>
<text x="483.70" y="569.5" font-size="10.5" text-anchor="middle" fill="#1a1a1a" stroke="#1a1a1a" stroke-width="0.2">1940</text>
<text x="550.50" y="569.5" font-size="10.5" text-anchor="middle" fill="#1a1a1a" stroke="#1a1a1a" stroke-width="0.2">1960</text>
<text x="617.40" y="569.5" font-size="10.5" text-anchor="middle" fill="#1a1a1a" stroke="#1a1a1a" stroke-width="0.2">1980</text>
<text x="684.00" y="569.5" font-size="10.5" text-anchor="middle" fill="#1a1a1a" stroke="#1a1a1a" stroke-width="0.2">2000</text>
<text x="751.10" y="569.5" font-size="10.5" text-anchor="middle" fill="#1a1a1a" stroke="#1a1a1a" stroke-width="0.2">2020</text>
<rect x="0" y="558" width="8.6" height="14" fill="#fff"/>
<text x="771" y="28.70" font-size="10.5" fill="#1a1a1a" stroke="#1a1a1a" stroke-width="0.2">100</text>
<text x="771" y="81.88" font-size="10.5" fill="#1a1a1a" stroke="#1a1a1a" stroke-width="0.2">50</text>
<text x="771" y="152.19" font-size="10.5" fill="#1a1a1a" stroke="#1a1a1a" stroke-width="0.2">20</text>
<text x="771" y="205.37" font-size="10.5" fill="#1a1a1a" stroke="#1a1a1a" stroke-width="0.2">10</text>
<text x="771" y="258.55" font-size="10.5" fill="#1a1a1a" stroke="#1a1a1a" stroke-width="0.2">5</text>
<text x="771" y="328.86" font-size="10.5" fill="#1a1a1a" stroke="#1a1a1a" stroke-width="0.2">2</text>
<text x="771" y="382.04" font-size="10.5" fill="#1a1a1a" stroke="#1a1a1a" stroke-width="0.2">1</text>
<text x="771" y="435.22" font-size="10.5" fill="#1a1a1a" stroke="#1a1a1a" stroke-width="0.2">0.5</text>
<text x="771" y="505.53" font-size="10.5" fill="#1a1a1a" stroke="#1a1a1a" stroke-width="0.2">0.2</text>
<text x="771" y="558.71" font-size="10.5" fill="#1a1a1a" stroke="#1a1a1a" stroke-width="0.2">0.1</text>
<text x="295" y="22.1" font-size="17.3" font-weight="bold" font-style="italic" fill="#1414ee" textLength="233" lengthAdjust="spacingAndGlyphs">220 Years - Dow/Gold Ratio</text>
<text x="24.3" y="35" font-size="10.5" fill="#1a1a1a" stroke="#1a1a1a" stroke-width="0.2" textLength="49.7" lengthAdjust="spacingAndGlyphs">Log Format</text>
<text x="380.5" y="35" font-size="10.5" fill="#1a1a1a" stroke="#1a1a1a" stroke-width="0.2" textLength="61.5" lengthAdjust="spacingAndGlyphs">Date = 2023.1</text>
<text x="622.7" y="35.3" font-size="10.5" fill="#1a1a1a" stroke="#1a1a1a" stroke-width="0.2" textLength="133.5" lengthAdjust="spacingAndGlyphs">Dow/Gold Ratio Close = 17.42</text>
<text x="116.9" y="350.6" font-size="10.2" fill="#1e1e1e" stroke="#1e1e1e" stroke-width="0.25" textLength="52.1" lengthAdjust="spacingAndGlyphs">Stocks High</text>
<text x="116.9" y="361.80" font-size="10.2" fill="#1e1e1e" stroke="#1e1e1e" stroke-width="0.25" textLength="43.1" lengthAdjust="spacingAndGlyphs">Gold Low</text>
<text x="437.1" y="132.75" font-size="10.2" fill="#1e1e1e" stroke="#1e1e1e" stroke-width="0.25" textLength="52.1" lengthAdjust="spacingAndGlyphs">Stocks High</text>
<text x="437.1" y="143.95" font-size="10.2" fill="#1e1e1e" stroke="#1e1e1e" stroke-width="0.25" textLength="43.1" lengthAdjust="spacingAndGlyphs">Gold Low</text>
<text x="567.1" y="104.4" font-size="10.2" fill="#1e1e1e" stroke="#1e1e1e" stroke-width="0.25" textLength="52.1" lengthAdjust="spacingAndGlyphs">Stocks High</text>
<text x="567.1" y="115.60" font-size="10.2" fill="#1e1e1e" stroke="#1e1e1e" stroke-width="0.25" textLength="43.1" lengthAdjust="spacingAndGlyphs">Gold Low</text>
<text x="678.5" y="67.5" font-size="10.2" fill="#1e1e1e" stroke="#1e1e1e" stroke-width="0.25" textLength="52.1" lengthAdjust="spacingAndGlyphs">Stocks High</text>
<text x="678.5" y="78.70" font-size="10.2" fill="#1e1e1e" stroke="#1e1e1e" stroke-width="0.25" textLength="43.1" lengthAdjust="spacingAndGlyphs">Gold Low</text>
<text x="140.25" y="490.25" font-size="10.2" fill="#1e1e1e" stroke="#1e1e1e" stroke-width="0.25" textLength="52.5" lengthAdjust="spacingAndGlyphs">Stocks Low</text>
<text x="140.25" y="501.45" font-size="10.2" fill="#1e1e1e" stroke="#1e1e1e" stroke-width="0.25" textLength="41.7" lengthAdjust="spacingAndGlyphs">Gold High</text>
<text x="223.75" y="462.5" font-size="10.2" fill="#1e1e1e" stroke="#1e1e1e" stroke-width="0.25" textLength="52.5" lengthAdjust="spacingAndGlyphs">Stocks Low</text>
<text x="223.75" y="473.70" font-size="10.2" fill="#1e1e1e" stroke="#1e1e1e" stroke-width="0.25" textLength="41.7" lengthAdjust="spacingAndGlyphs">Gold High</text>
<text x="465.0" y="341.5" font-size="10.2" fill="#1e1e1e" stroke="#1e1e1e" stroke-width="0.25" textLength="52.5" lengthAdjust="spacingAndGlyphs">Stocks Low</text>
<text x="465.0" y="352.70" font-size="10.2" fill="#1e1e1e" stroke="#1e1e1e" stroke-width="0.25" textLength="41.7" lengthAdjust="spacingAndGlyphs">Gold High</text>
<text x="614.5" y="374.0" font-size="10.2" fill="#1e1e1e" stroke="#1e1e1e" stroke-width="0.25" textLength="52.5" lengthAdjust="spacingAndGlyphs">Stocks Low</text>
<text x="614.5" y="385.20" font-size="10.2" fill="#1e1e1e" stroke="#1e1e1e" stroke-width="0.25" textLength="41.7" lengthAdjust="spacingAndGlyphs">Gold High</text>
<text x="49.9" y="65.9" font-size="22.7" font-weight="bold" fill="#1a4986" stroke="#1a4986" stroke-width="0.5" textLength="350.8" lengthAdjust="spacingAndGlyphs">IF DOW GOLD RATIO FALLS 97%</text>
<text x="33.2" y="92.8" font-size="22.6" font-weight="bold" fill="#1a4986" stroke="#1a4986" stroke-width="0.5" textLength="391.6" lengthAdjust="spacingAndGlyphs" xml:space="preserve">TO LONG TERM TREND LINE  OF 0.5</text>
<text x="147" y="147.1" font-size="22.6" font-weight="bold" fill="#1a4986" stroke="#1a4986" stroke-width="0.5" textLength="158.9" lengthAdjust="spacingAndGlyphs">WILL THAT BE:</text>
<text x="83.7" y="201" font-size="22.9" font-weight="bold" fill="#d92e1f" stroke="#d92e1f" stroke-width="0.5" textLength="316.7" lengthAdjust="spacingAndGlyphs">GOLD $10,000 - DOW 5,000 or</text>
<text x="77.1" y="254.5" font-size="22.9" font-weight="bold" fill="#d92e1f" stroke="#d92e1f" stroke-width="0.5" textLength="300.9" lengthAdjust="spacingAndGlyphs">GOLD $20,000 - DOW 10,000</text>
<text x="312.3" y="517.9" font-size="21.6" font-weight="bold" fill="#ebb433" stroke="#ebb433" stroke-width="0.5" textLength="174.5" lengthAdjust="spacingAndGlyphs">GoldSwitzerland</text>
<text x="308.55" y="553" font-size="15.6" fill="#1e1ef0" stroke="#1e1ef0" stroke-width="0.2" textLength="237.2" lengthAdjust="spacingAndGlyphs">Trendline with 75% Confidence Band</text>
<text x="326" y="581.8" font-size="10.5" fill="#1a1a1a" stroke="#1a1a1a" stroke-width="0.2" textLength="205" lengthAdjust="spacingAndGlyphs">world gold charts © www.goldchartsrus.com</text>
<line x1="447.2" y1="318.6" x2="758.3" y2="426.9" stroke="#000" stroke-width="5.4"/>
<line x1="762.5" y1="173.7" x2="784.9" y2="421" stroke="#d9361f" stroke-width="4.3"/>
<polygon points="775.6,418.7 793.6,417.1 786.2,435.8" fill="#d9361f"/>
</svg></body></html>
